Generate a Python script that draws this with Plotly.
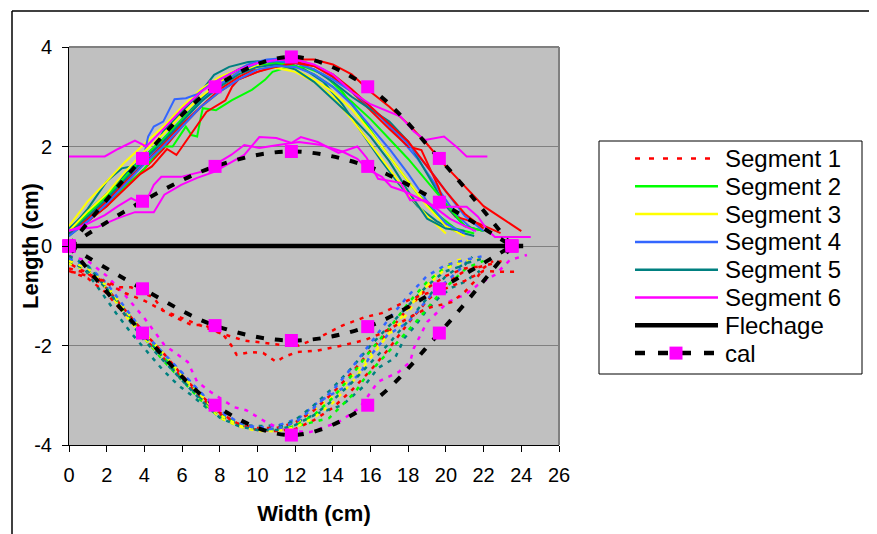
import plotly.graph_objects as go

# ---------------- axis / legend data ----------------
x_tickvals = [0, 2, 4, 6, 8, 10, 12, 14, 16, 18, 20, 22, 24, 26]
y_tickvals = [-4, -2, 0, 2, 4]
y_ticktext = ['-4', '-2', '0', '2', '4']
legend_labels = ['Segment 1', 'Segment 2', 'Segment 3', 'Segment 4',
                 'Segment 5', 'Segment 6', 'Flechage', 'cal']

grid20 = [0, 1, 2, 3, 4, 5, 6, 7, 8, 9, 10, 11, 12, 13, 14, 15, 16, 17, 18, 19, 20]
grid21 = [0, 1, 2, 3, 4, 5, 6, 7, 8, 9, 10, 11, 12, 13, 14, 15, 16, 17, 18, 19, 20, 21]
grid22 = [0, 1, 2, 3, 4, 5, 6, 7, 8, 9, 10, 11, 12, 13, 14, 15, 16, 17, 18, 19, 20, 21, 22]
grid23 = [0, 1, 2, 3, 4, 5, 6, 7, 8, 9, 10, 11, 12, 13, 14, 15, 16, 17, 18, 19, 20, 21, 22, 23]
grid24 = [0, 1, 2, 3, 4, 5, 6, 7, 8, 9, 10, 11, 12, 13, 14, 15, 16, 17, 18, 19, 20, 21, 22, 23, 24]

# ---------------- upper (solid) measured curves ----------------
up_red1_x = grid24
up_red1_y = [0.25, 0.5, 0.8, 1.2, 1.55, 1.95, 2.4, 2.8, 3.15, 3.4, 3.58, 3.7, 3.75, 3.75, 3.65,
             3.45, 3.1, 2.8, 2.45, 2.05, 1.6, 1.2, 0.8, 0.55, 0.3]
up_red2_x = [0, 1, 2, 3, 3.8, 4.4, 5.2, 5.7, 6.55, 7.3, 8.3, 8.65, 9.0, 10, 11, 12, 13, 14, 15,
             16, 17, 18, 18.7, 19.6, 19.9, 20.5, 21.7, 22.9]
up_red2_y = [0.3, 0.5, 0.8, 1.15, 1.45, 1.6, 1.95, 1.83, 2.3, 2.7, 2.93, 3.2, 3.35, 3.5, 3.62,
             3.7, 3.62, 3.4, 3.1, 2.72, 2.35, 2.0, 1.93, 1.19, 0.86, 0.59, 0.46, 0.26]
up_red3_x = grid22
up_red3_y = [0.25, 0.55, 0.9, 1.3, 1.65, 2.05, 2.45, 2.8, 3.1, 3.35, 3.5, 3.6, 3.68, 3.62, 3.45,
             3.15, 2.8, 2.45, 2.1, 1.6, 1.1, 0.65, 0.35]
up_green1_x = [0, 1, 2, 3, 4, 4.5, 5.0, 5.5, 5.85, 6.2, 6.5, 6.8, 7.0, 7.1, 7.8, 8.65, 9.7, 10.4,
               10.8, 11.5, 12.5, 13.5, 14.5, 15.5, 16.5, 17.5, 18.5, 19.5, 20.5, 21.5]
up_green1_y = [0.2, 0.5, 0.85, 1.2, 1.55, 1.8, 2.0, 2.0, 2.2, 2.4, 2.23, 2.2, 2.6, 2.77, 2.73,
               2.93, 3.14, 3.34, 3.5, 3.58, 3.6, 3.45, 3.1, 2.6, 2.05, 1.55, 1.05, 0.65, 0.35, 0.25]
up_green2_x = grid22
up_green2_y = [0.3, 0.65, 1.0, 1.4, 1.8, 2.15, 2.55, 2.9, 3.25, 3.5, 3.62, 3.68, 3.62, 3.45, 3.2,
               2.9, 2.55, 2.15, 1.75, 1.3, 0.85, 0.4, 0.3]
up_yellow1_x = grid20
up_yellow1_y = [0.4, 0.9, 1.3, 1.7, 2.05, 2.4, 2.8, 3.15, 3.4, 3.55, 3.58, 3.58, 3.5, 3.3, 3.0,
                2.55, 2.05, 1.55, 1.05, 0.6, 0.25]
up_yellow2_x = grid21
up_yellow2_y = [0.3, 0.7, 1.05, 1.5, 1.9, 2.25, 2.65, 3.0, 3.3, 3.5, 3.62, 3.62, 3.55, 3.35, 3.1,
                2.75, 2.3, 1.8, 1.3, 0.8, 0.4, 0.2]
up_blue1_x = [0, 1, 2, 3, 3.6, 4.0, 4.2, 4.5, 5.0, 5.6, 6.2, 6.8, 7.5, 8.5, 9.5, 10.5, 11.5,
              12.5, 13.5, 14.5, 15.5, 16.5, 17.5, 18.5, 19.5, 20.5, 21.5]
up_blue1_y = [0.2, 0.55, 0.95, 1.35, 1.65, 1.85, 2.2, 2.4, 2.5, 2.95, 2.97, 3.05, 3.25, 3.45,
              3.65, 3.75, 3.78, 3.7, 3.55, 3.25, 2.95, 2.6, 2.2, 1.75, 1.2, 0.65, 0.3]
up_blue2_x = grid22
up_blue2_y = [0.25, 0.55, 0.9, 1.3, 1.7, 2.1, 2.5, 2.9, 3.25, 3.5, 3.68, 3.72, 3.68, 3.55, 3.35,
              3.1, 2.8, 2.45, 2.05, 1.6, 1.1, 0.6, 0.3]
up_blue3_x = grid21
up_blue3_y = [0.2, 0.5, 0.85, 1.25, 1.65, 2.0, 2.4, 2.8, 3.1, 3.35, 3.55, 3.62, 3.6, 3.45, 3.2,
              2.85, 2.4, 1.95, 1.45, 0.9, 0.45, 0.25]
up_teal1_x = [0, 1, 2, 2.8, 3.3, 3.85, 4.5, 5, 6, 7, 7.7, 8.5, 9.5, 10.5, 11.5, 12.5, 13.5, 14.5,
              15.5, 16.5, 17.5, 18.5, 19.5, 20.5, 21.5]
up_teal1_y = [0.3, 0.75, 1.3, 1.56, 1.6, 1.65, 1.95, 2.3, 2.7, 3.1, 3.44, 3.6, 3.7, 3.72, 3.7,
              3.55, 3.3, 2.85, 2.3, 1.75, 1.25, 0.8, 0.5, 0.3, 0.2]
up_teal2_x = grid22
up_teal2_y = [0.35, 0.7, 1.05, 1.45, 1.8, 2.15, 2.55, 2.95, 3.3, 3.55, 3.68, 3.72, 3.68, 3.55, 3.3,
              3.0, 2.75, 2.5, 2.1, 1.45, 0.8, 0.4, 0.3]
up_teal3_x = grid21
up_teal3_y = [0.25, 0.6, 0.95, 1.35, 1.75, 2.1, 2.5, 2.9, 3.2, 3.45, 3.6, 3.65, 3.55, 3.3, 2.95,
              2.6, 2.2, 1.7, 1.1, 0.55, 0.35, 0.3]
up_mag_x = [0, 1.9, 2.6, 3.5, 4.1, 4.5, 5, 6, 7, 8, 9, 10, 11, 12, 13, 14, 15, 16, 17, 17.6, 18.3,
            18.9, 19.9, 20.6, 21.1, 22.2]
up_mag_y = [1.8, 1.8, 1.95, 2.12, 2.0, 2.15, 2.35, 2.75, 3.1, 3.35, 3.55, 3.68, 3.74, 3.75, 3.65,
            3.45, 3.1, 2.85, 2.7, 2.6, 2.3, 2.13, 2.2, 1.98, 1.8, 1.8]

# inner upper magenta curves
in_mag1_x = [0, 1.5, 2.6, 3.5, 4.5, 5.06, 5.95, 6.8, 7.7, 8.6, 9.3, 10.1, 11.0, 11.8, 12.3, 13.2,
             14.3, 15.3, 15.8, 16.4, 17.6, 18.1, 18.9, 19.4, 21.1, 21.7, 22.2, 22.6, 24.5]
in_mag1_y = [0.32, 0.38, 0.56, 0.68, 0.68, 1.03, 1.23, 1.37, 1.49, 1.69, 1.83, 2.19, 2.17, 2.07,
             2.19, 2.09, 1.87, 2.0, 1.77, 1.35, 1.27, 0.92, 0.92, 0.79, 0.79, 0.59, 0.32, 0.18, 0.18]
in_mag2_x = [0, 1.0, 1.9, 2.6, 3.3, 4.0, 4.5, 4.9, 5.95, 7.0, 7.9, 8.6, 9.3, 10.1, 11.1, 12.2,
             13.4, 14.5, 15.3, 15.9, 16.6, 17.1, 17.8, 18.6, 19.5, 20.2, 21.0, 21.6]
in_mag2_y = [0.3, 0.45, 0.62, 0.8, 0.96, 0.82, 1.23, 1.39, 1.39, 1.49, 1.67, 1.83, 2.03, 1.97,
             2.03, 2.09, 2.03, 1.9, 1.75, 1.53, 1.39, 1.19, 1.1, 0.95, 0.75, 0.55, 0.4, 0.3]

# ---------------- lower (dotted) measured curves ----------------
lo_red1_x = grid23
lo_red1_y = [-0.45, -0.55, -0.85, -1.3, -1.75, -2.15, -2.6, -3.0, -3.35, -3.58, -3.7, -3.72, -3.68,
             -3.5, -3.25, -2.9, -2.5, -2.05, -1.55, -1.1, -0.75, -0.5, -0.4, -0.3]
lo_red2_x = grid22
lo_red2_y = [-0.5, -0.65, -0.95, -1.4, -1.85, -2.25, -2.65, -3.05, -3.38, -3.58, -3.66, -3.66,
             -3.55, -3.3, -2.95, -2.55, -2.1, -1.7, -1.25, -0.85, -0.6, -0.45, -0.4]
lo_green1_x = [0, 1, 2, 3, 4, 5, 6, 7, 8, 9, 10, 11, 12.3, 13.8, 15.2, 15.7, 16.8, 17.6, 18.4, 19.6,
               20.3, 21.1, 22]
lo_green1_y = [-0.35, -0.5, -0.85, -1.35, -1.85, -2.3, -2.7, -3.1, -3.45, -3.62, -3.7, -3.68, -3.6,
               -3.46, -2.93, -2.65, -2.19, -1.85, -1.53, -0.99, -0.72, -0.44, -0.3]
lo_green2_x = grid21
lo_green2_y = [-0.3, -0.42, -0.8, -1.3, -1.75, -2.2, -2.6, -3.0, -3.4, -3.58, -3.68, -3.72, -3.62,
               -3.4, -3.05, -2.6, -2.1, -1.65, -1.15, -0.72, -0.42, -0.3]
lo_yellow1_x = [0, 1, 2, 3, 4, 5, 6, 7, 8, 9, 10, 11, 12, 13, 14.3, 15.7, 16.4, 17.5, 18.9, 19.6,
                20.3, 21]
lo_yellow1_y = [-0.35, -0.5, -0.85, -1.4, -1.85, -2.25, -2.65, -3.05, -3.45, -3.62, -3.72, -3.72,
                -3.58, -3.3, -2.93, -2.33, -1.99, -1.59, -0.84, -0.52, -0.32, -0.25]
lo_yellow2_x = grid22
lo_yellow2_y = [-0.3, -0.45, -0.8, -1.3, -1.75, -2.15, -2.6, -3.0, -3.4, -3.6, -3.7, -3.72, -3.65,
                -3.45, -3.15, -2.75, -2.25, -1.75, -1.25, -0.8, -0.45, -0.3, -0.25]
lo_blue1_x = [0, 1, 2, 3, 4, 5, 6, 7, 8, 9, 10, 11, 12.2, 13.2, 14.8, 15.5, 16.0, 16.9, 18.0, 19.2,
              20.6, 21.3]
lo_blue1_y = [-0.3, -0.42, -0.8, -1.35, -1.78, -2.15, -2.55, -2.95, -3.35, -3.55, -3.65, -3.62,
              -3.46, -3.14, -2.8, -2.53, -2.2, -1.79, -1.53, -0.99, -0.52, -0.24]
lo_blue2_x = grid22
lo_blue2_y = [-0.25, -0.4, -0.75, -1.25, -1.75, -2.15, -2.55, -2.95, -3.3, -3.55, -3.68, -3.68,
              -3.55, -3.25, -2.9, -2.45, -1.95, -1.45, -1.0, -0.6, -0.38, -0.28, -0.2]
lo_teal1_x = [0, 0.8, 1.7, 2.5, 3.3, 4.2, 5, 5.8, 6.5, 7.3, 8.2, 9.2, 10.2, 11.2, 12.2, 13.3, 14.5,
              15.7, 16.4, 17.3, 17.8, 18.4, 18.9, 19.6, 20.3, 21, 21.8]
lo_teal1_y = [-0.28, -0.45, -0.92, -1.35, -1.75, -2.15, -2.5, -2.8, -3.0, -3.25, -3.45, -3.6, -3.62,
              -3.6, -3.52, -3.35, -3.2, -2.8, -2.45, -2.25, -1.85, -1.59, -1.33, -1.05, -0.84,
              -0.72, -0.5]
lo_teal2_x = [0, 1, 2, 3, 4, 5, 6, 7, 8, 9, 10, 11, 12, 13, 14, 15, 16, 17, 18, 19, 19.9, 21, 21.4]
lo_teal2_y = [-0.3, -0.5, -0.85, -1.3, -1.8, -2.25, -2.7, -3.05, -3.4, -3.58, -3.7, -3.68, -3.5,
              -3.2, -2.85, -2.45, -2.0, -1.6, -1.2, -0.8, -0.52, -0.38, -0.22]
lo_teal3_x = grid22
lo_teal3_y = [-0.2, -0.4, -0.85, -1.4, -1.9, -2.3, -2.7, -3.1, -3.45, -3.62, -3.7, -3.7, -3.6,
              -3.4, -3.1, -2.75, -2.35, -1.95, -1.5, -1.05, -0.6, -0.35, -0.25]
lo_mag_x = [0, 1, 2, 3, 4, 5.06, 6.3, 6.8, 7.5, 8.75, 9.4, 10.5, 11.5, 12.8, 14.3, 15.4, 16.4, 17.5,
            18.1, 18.3, 19.0, 20.1, 21.0, 21.7, 22.6, 23.4, 24.3]
lo_mag_y = [-0.2, -0.3, -0.6, -1.0, -1.45, -1.99, -2.33, -2.73, -2.93, -3.24, -3.3, -3.55, -3.72,
            -3.74, -3.54, -3.26, -2.73, -2.53, -2.33, -2.05, -1.53, -1.13, -0.98, -0.78, -0.58,
            -0.28, -0.18]

# inner lower red curves
in_red1_x = [0.15, 1.0, 2.05, 2.6, 3.3, 4.5, 5.06, 5.7, 6.5, 7.2, 8.2, 8.6, 8.9, 9.65, 10.3, 11.0,
             11.4, 12.1, 13.2, 14.5, 15.7, 16.6, 17.1, 18, 19, 20.3, 21, 21.5, 22, 22.5]
in_red1_y = [-0.52, -0.6, -0.72, -0.83, -0.83, -1.04, -1.33, -1.45, -1.59, -1.59, -1.79, -1.99,
             -2.19, -2.13, -2.15, -2.33, -2.23, -2.13, -2.1, -2.0, -1.89, -1.75, -1.65, -1.45,
             -1.25, -1.13, -0.92, -0.72, -0.44, -0.3]
in_red2_x = [0.15, 1.0, 2.0, 3.0, 4.0, 5.0, 6.0, 7.0, 8.0, 9.3, 10.5, 11.5, 12.2, 13.2, 14.5, 15.7,
             16.6, 17.5, 18, 19, 20, 21, 22, 23.1, 23.9]
in_red2_y = [-0.38, -0.55, -0.75, -0.95, -1.1, -1.3, -1.45, -1.6, -1.75, -1.9, -1.95, -2.0, -2.0,
             -1.85, -1.6, -1.43, -1.35, -1.19, -1.09, -0.95, -0.85, -0.7, -0.5, -0.52, -0.52]

# Flechage and cal
fle_x = [0, 24.1]
fle_y = [0, 0]
cal_x = [0, 3.9, 7.75, 11.8, 15.85, 19.65, 23.5]
cal_up_outer = [0, 1.76, 3.2, 3.8, 3.2, 1.76, 0]
cal_up_inner = [0, 0.9, 1.6, 1.9, 1.6, 0.88, 0]
cal_lo_inner = [0, -0.86, -1.6, -1.9, -1.62, -0.86, 0]
cal_lo_outer = [0, -1.75, -3.2, -3.8, -3.2, -1.75, 0]

# ---------------- styling ----------------
RED, GREEN, YELLOW = '#FF0000', '#00FF00', '#FFFF00'
BLUE, TEAL, MAGENTA = '#3366FF', '#008080', '#FF00FF'
FONT = 'Liberation Sans, Arial, sans-serif'

OFF = 8                      # page body margin of the browser
W, H = 877 - OFF, 534 - OFF
ML, MT = 69 - OFF, 47 - OFF
MR, MB = 318, 89
PW, PH = W - ML - MR, H - MT - MB


def pxx(px):
    """reference-image x pixel -> paper x"""
    return (px - OFF - ML) / PW


def pxy(py):
    """reference-image y pixel -> paper y"""
    return (H - MB - (py - OFF)) / PH


fig = go.Figure()

upper = [
    (up_red1_x, up_red1_y, RED), (up_teal1_x, up_teal1_y, TEAL),
    (up_green1_x, up_green1_y, GREEN), (up_yellow1_x, up_yellow1_y, YELLOW),
    (up_blue1_x, up_blue1_y, BLUE), (up_red2_x, up_red2_y, RED),
    (up_teal2_x, up_teal2_y, TEAL), (up_green2_x, up_green2_y, GREEN),
    (up_yellow2_x, up_yellow2_y, YELLOW), (up_blue2_x, up_blue2_y, BLUE),
    (up_red3_x, up_red3_y, RED), (up_teal3_x, up_teal3_y, TEAL),
    (up_blue3_x, up_blue3_y, BLUE), (up_mag_x, up_mag_y, MAGENTA),
    (in_mag1_x, in_mag1_y, MAGENTA), (in_mag2_x, in_mag2_y, MAGENTA),
]
for x, y, c in upper:
    fig.add_trace(go.Scatter(x=x, y=y, mode='lines', line=dict(color=c, width=2),
                             showlegend=False, hoverinfo='skip'))

lower = [
    (lo_red1_x, lo_red1_y, RED), (lo_teal1_x, lo_teal1_y, TEAL),
    (lo_green1_x, lo_green1_y, GREEN), (lo_yellow1_x, lo_yellow1_y, YELLOW),
    (lo_blue1_x, lo_blue1_y, BLUE), (lo_mag_x, lo_mag_y, MAGENTA),
    (lo_red2_x, lo_red2_y, RED), (lo_teal2_x, lo_teal2_y, TEAL),
    (lo_green2_x, lo_green2_y, GREEN), (lo_yellow2_x, lo_yellow2_y, YELLOW),
    (lo_blue2_x, lo_blue2_y, BLUE), (lo_teal3_x, lo_teal3_y, TEAL),
    (in_red1_x, in_red1_y, RED), (in_red2_x, in_red2_y, RED),
]
for x, y, c in lower:
    fig.add_trace(go.Scatter(x=x, y=y, mode='lines',
                             line=dict(color=c, width=2.5, dash='4px,6px'),
                             showlegend=False, hoverinfo='skip'))

fig.add_trace(go.Scatter(x=fle_x, y=fle_y, mode='lines', line=dict(color='black', width=4.5),
                         showlegend=False, hoverinfo='skip'))

for cy in (cal_up_outer, cal_up_inner, cal_lo_inner, cal_lo_outer):
    fig.add_trace(go.Scatter(x=cal_x, y=cy, mode='lines+markers',
                             line=dict(color='black', width=4, dash='8px,11px', shape='spline'),
                             marker=dict(symbol='square', size=13, color=MAGENTA,
                                         line=dict(width=0)),
                             cliponaxis=False, showlegend=False, hoverinfo='skip'))

shapes = []
# plot-area border (top & right, gray)
shapes.append(dict(type='line', xref='paper', yref='paper', x0=0, x1=1, y0=1, y1=1,
                   line=dict(color='#808080', width=2)))
shapes.append(dict(type='line', xref='paper', yref='paper', x0=1, x1=1, y0=0, y1=1,
                   line=dict(color='#808080', width=2)))
# chart-area border (top & left visible)
shapes.append(dict(type='line', xref='paper', yref='paper', x0=pxx(12), x1=pxx(890),
                   y0=pxy(11), y1=pxy(11), line=dict(color='black', width=1.5)))
shapes.append(dict(type='line', xref='paper', yref='paper', x0=pxx(12), x1=pxx(12),
                   y0=pxy(11), y1=pxy(545), line=dict(color='black', width=1.5)))
# legend box
shapes.append(dict(type='rect', xref='paper', yref='paper', x0=pxx(599), x1=pxx(862),
                   y0=pxy(374), y1=pxy(141), line=dict(color='black', width=1),
                   fillcolor='white'))

legend_styles = [
    (RED, 2.5, '5px,9px'), (GREEN, 2.5, 'solid'), (YELLOW, 2.5, 'solid'),
    (BLUE, 2.5, 'solid'), (TEAL, 2.5, 'solid'), (MAGENTA, 2.5, 'solid'),
    ('black', 4.5, 'solid'), ('black', 4.5, '10px,13px'),
]
annotations = []
for i, (lab, (col, wid, dash)) in enumerate(zip(legend_labels, legend_styles)):
    yc = 158.5 + 27.8 * i
    shapes.append(dict(type='line', xref='paper', yref='paper', x0=pxx(635), x1=pxx(718),
                       y0=pxy(yc), y1=pxy(yc), line=dict(color=col, width=wid, dash=dash)))
    if lab == 'cal':
        shapes.append(dict(type='rect', xref='paper', yref='paper', x0=pxx(669.5),
                           x1=pxx(682.5), y0=pxy(yc + 6.5), y1=pxy(yc - 6.5),
                           line=dict(width=0), fillcolor=MAGENTA))
    annotations.append(dict(text=lab, xref='paper', yref='paper', x=pxx(723), y=pxy(yc),
                            xanchor='left', yanchor='middle', showarrow=False,
                            font=dict(size=24, color='black', family=FONT)))

annotations.append(dict(text='<b>Length (cm)</b>', xref='paper', yref='paper', x=pxx(30),
                        y=pxy(246), xanchor='center', yanchor='middle', textangle=-90,
                        showarrow=False, font=dict(size=22, color='black', family=FONT)))

fig.update_layout(
    width=W, height=H, autosize=False,
    margin=dict(l=ML, r=MR, t=MT, b=MB),
    paper_bgcolor='white', plot_bgcolor='#C0C0C0',
    font=dict(family=FONT, color='black'),
    showlegend=False,
    shapes=shapes, annotations=annotations,
    xaxis=dict(range=[0, 26], tickmode='array', tickvals=x_tickvals, ticks='outside',
               ticklen=6, tickwidth=1, tickcolor='black', showline=True, linecolor='black',
               linewidth=1, showgrid=False, zeroline=False, tickfont=dict(size=20),
               ticklabelstandoff=6,
               title=dict(text='<b>Width (cm)</b>', font=dict(size=22), standoff=20)),
    yaxis=dict(range=[-4, 4], tickmode='array', tickvals=y_tickvals, ticktext=y_ticktext,
               ticks='outside', ticklen=6, tickwidth=1, tickcolor='black', showline=True,
               linecolor='black', linewidth=1, showgrid=True, gridcolor='#808080',
               gridwidth=1, zeroline=False, tickfont=dict(size=20), ticklabelstandoff=6),
)

fig.write_html('out.html')
